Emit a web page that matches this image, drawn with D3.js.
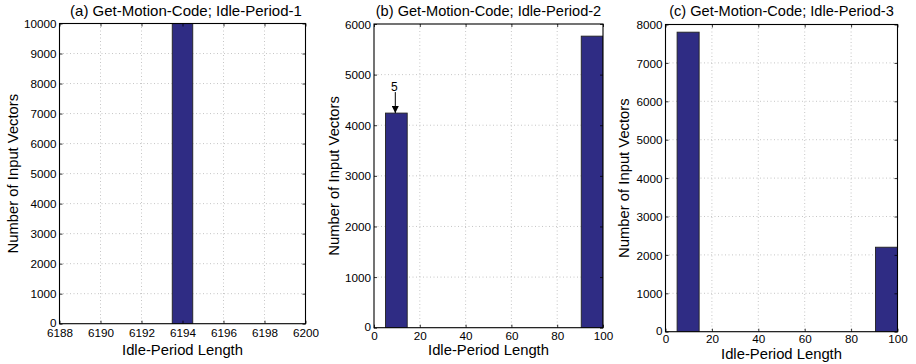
<!DOCTYPE html>
<html>
<head>
<meta charset="utf-8">
<script src="https://cdn.jsdelivr.net/npm/d3@7"></script>
<style>
  body { margin: 0; background: #fff; }
  svg text { font-family: "Liberation Sans", Arial, Helvetica, sans-serif; fill: #000; }
</style>
</head>
<body>
<svg id="chart" width="916" height="364"></svg>
<script>
// ---- data ----
const titles = ["(a) Get-Motion-Code; Idle-Period-1",
                "(b) Get-Motion-Code; Idle-Period-2",
                "(c) Get-Motion-Code; Idle-Period-3"];
const xLabel = "Idle-Period Length";
const yLabel = "Number of Input Vectors";

// bars: [x0, x1, count]
const barsA = [[6193.5, 6194.5, 10000]];
const barsB = [[5, 14.5, 4240], [90.5, 100, 5760]];
const barsC = [[5, 14.5, 7800], [90.5, 100, 2200]];

const xDomainA = [6188, 6200];
const xDomainB = [0, 100];
const xDomainC = [0, 100];
const yDomainA = [0, 10000];
const yDomainB = [0, 6000];
const yDomainC = [0, 8000];

const xTicksA = [6188, 6190, 6192, 6194, 6196, 6198, 6200];
const xTicksB = [0, 20, 40, 60, 80, 100];
const xTicksC = [0, 20, 40, 60, 80, 100];
const yTicksA = [0, 1000, 2000, 3000, 4000, 5000, 6000, 7000, 8000, 9000, 10000];
const yTicksB = [0, 1000, 2000, 3000, 4000, 5000, 6000];
const yTicksC = [0, 1000, 2000, 3000, 4000, 5000, 6000, 7000, 8000];

// annotation on panel b: label and x position it points to
const annotB = { text: "5", x: 9.3, y: 4240 };

// ---- layout (pixel boxes of each axes) ----
const panels = [
  { title: titles[0], bars: barsA, xd: xDomainA, yd: yDomainA, xt: xTicksA, yt: yTicksA,
    box: { l: 59.5, r: 305.5, t: 23.5, b: 323.7 }, titleX: 186, ylabX: 13, xtY: 337.5, xlY: 355, titleSize: 15 },
  { title: titles[1], bars: barsB, xd: xDomainB, yd: yDomainB, xt: xTicksB, yt: yTicksB,
    box: { l: 374, r: 603, t: 24, b: 327.7 }, titleX: 488.5, ylabX: 334, xtY: 340.5, xlY: 355, titleSize: 14.6, annot: annotB },
  { title: titles[2], bars: barsC, xd: xDomainC, yd: yDomainC, xt: xTicksC, yt: yTicksC,
    box: { l: 665.5, r: 897.5, t: 24.5, b: 331.7 }, titleX: 781.5, ylabX: 624, xtY: 343.5, xlY: 358.5, titleSize: 14.6 }
];

const svg = d3.select("#chart");
const defs = svg.append("defs");
defs.append("marker").attr("id", "arrow").attr("viewBox", "0 0 10 10")
  .attr("refX", 10).attr("refY", 5).attr("markerWidth", 7).attr("markerHeight", 7)
  .attr("markerUnits", "userSpaceOnUse").attr("orient", "auto")
  .append("path").attr("d", "M0,0 L10,5 L0,10 z").attr("fill", "#000");

const barColor = "#2f2c84";
const tickFont = 11.7;
const labelFont = 14.8;

panels.forEach((p, i) => {
  const { l, r, t, b } = p.box;
  const x = d3.scaleLinear().domain(p.xd).range([l, r]);
  const y = d3.scaleLinear().domain(p.yd).range([b, t]);
  const g = svg.append("g");

  g.append("rect").attr("x", l).attr("y", t).attr("width", r - l).attr("height", b - t).attr("fill", "#fff");

  // grid
  const grid = g.append("g").attr("stroke", "#b8b8b8").attr("stroke-width", 0.8).attr("stroke-dasharray", "1,2.5");
  p.xt.slice(1, -1).forEach(v => {
    grid.append("line").attr("x1", x(v)).attr("x2", x(v)).attr("y1", t).attr("y2", b);
  });
  p.yt.slice(1, -1).forEach(v => {
    grid.append("line").attr("x1", l).attr("x2", r).attr("y1", y(v)).attr("y2", y(v));
  });

  // bars
  const clipId = "clip" + i;
  defs.append("clipPath").attr("id", clipId).append("rect")
    .attr("x", l).attr("y", t).attr("width", r - l).attr("height", b - t);
  g.append("g").attr("clip-path", `url(#${clipId})`)
    .selectAll("rect").data(p.bars).join("rect")
    .attr("x", d => x(d[0])).attr("width", d => x(d[1]) - x(d[0]))
    .attr("y", d => y(d[2])).attr("height", d => y(0) - y(d[2]))
    .attr("fill", barColor).attr("stroke", "#222").attr("stroke-width", 0.9);

  // axes with inward ticks
  const xAxis = d3.axisBottom(x).tickValues(p.xt).tickSize(-3).tickPadding(0).tickFormat(d3.format("d"));
  const yAxis = d3.axisLeft(y).tickValues(p.yt).tickSize(-3).tickPadding(0).tickFormat(d3.format("d"));
  const gx = g.append("g").attr("transform", `translate(0,${b})`).call(xAxis);
  const gy = g.append("g").attr("transform", `translate(${l},0)`).call(yAxis);
  [gx, gy].forEach(ax => {
    ax.select(".domain").remove();
    ax.selectAll(".tick line").attr("stroke", "#000").attr("stroke-width", 0.8);
    ax.selectAll(".tick text").attr("font-size", tickFont)
      .attr("font-family", "Liberation Sans, Arial, sans-serif").attr("fill", "#000");
  });
  gx.selectAll(".tick text").attr("y", p.xtY - b).attr("dy", null).attr("text-anchor", "middle");
  gy.selectAll(".tick text").attr("x", -3).attr("dy", d => d === 0 ? "0.25em" : "0.35em").attr("text-anchor", "end");

  // top/right ticks (MATLAB box)
  const gxt = g.append("g").attr("transform", `translate(0,${t})`)
    .call(d3.axisTop(x).tickValues(p.xt).tickSize(-3).tickFormat(""));
  const gyr = g.append("g").attr("transform", `translate(${r},0)`)
    .call(d3.axisRight(y).tickValues(p.yt).tickSize(-3).tickFormat(""));
  [gxt, gyr].forEach(ax => { ax.select(".domain").remove(); ax.selectAll(".tick line").attr("stroke-width", 0.8); });

  // box
  g.append("rect").attr("x", l).attr("y", t).attr("width", r - l).attr("height", b - t)
    .attr("fill", "none").attr("stroke", "#000").attr("stroke-width", 1.1);

  // title
  g.append("text").attr("x", p.titleX).attr("y", 15.5).attr("text-anchor", "middle")
    .attr("font-size", p.titleSize).text(p.title);
  // x label
  g.append("text").attr("x", (l + r) / 2).attr("y", p.xlY).attr("text-anchor", "middle")
    .attr("font-size", labelFont).text(xLabel);
  // y label
  g.append("text").attr("transform", `translate(${p.ylabX + 5},${(t + b) / 2}) rotate(-90)`)
    .attr("text-anchor", "middle").attr("font-size", labelFont).text(yLabel);

  // annotation
  if (p.annot) {
    const a = p.annot;
    g.append("text").attr("x", x(a.x) - 1).attr("y", y(a.y) - 22.5).attr("text-anchor", "middle")
      .attr("font-size", 12).text(a.text);
    g.append("line").attr("x1", x(a.x)).attr("x2", x(a.x))
      .attr("y1", y(a.y) - 21).attr("y2", y(a.y))
      .attr("stroke", "#000").attr("stroke-width", 1).attr("marker-end", "url(#arrow)");
  }
});
</script>
</body>
</html>
